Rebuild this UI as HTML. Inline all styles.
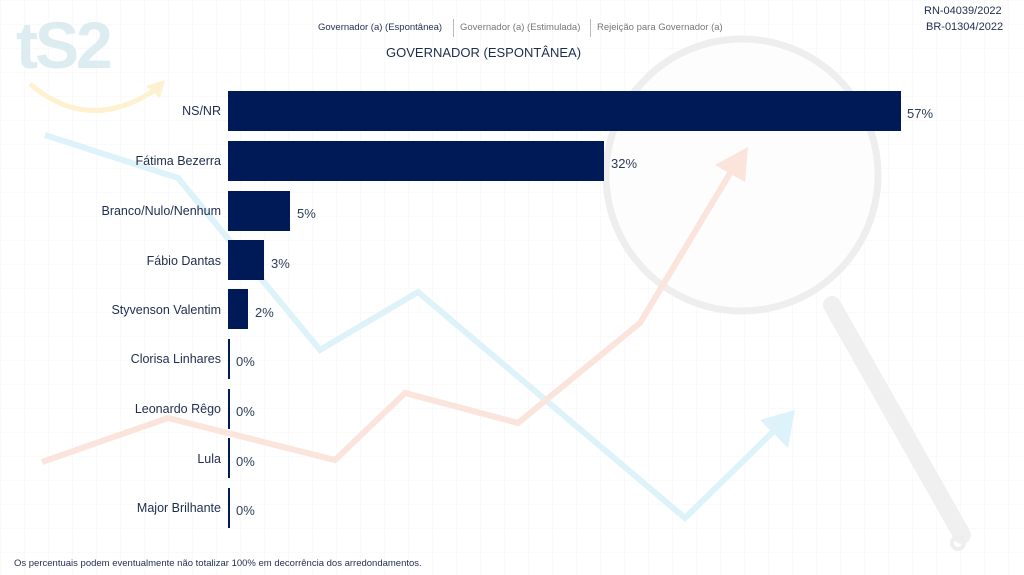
<!DOCTYPE html>
<html><head><meta charset="utf-8"><style>
body{margin:0;width:1024px;height:575px;overflow:hidden;background:#fff;font-family:"Liberation Sans",sans-serif;}
.wrap{position:relative;width:1024px;height:575px;}
.t{position:absolute;white-space:nowrap;}
.lbl{position:absolute;right:803px;font-size:12.5px;color:#1f2d4d;text-align:right;}
.bar{position:absolute;left:228px;height:40px;background:#001a57;}
.val{position:absolute;font-size:13px;color:#2c3e5a;}
</style></head><body><div class="wrap">
<svg width="1024" height="575" style="position:absolute;left:0;top:0">
<defs><pattern id="g" width="24" height="24" patternUnits="userSpaceOnUse"><path d="M24 0H0V24" fill="none" stroke="#f5f6f7" stroke-width="1"/></pattern></defs>
<rect width="1024" height="575" fill="url(#g)"/>
<circle cx="742" cy="175" r="136" fill="#fdfdfd" stroke="#eeeeee" stroke-width="7"/>
<line x1="832" y1="305" x2="962" y2="535" stroke="#f0f0f0" stroke-width="18" stroke-linecap="round"/>
<circle cx="958" cy="543" r="6" fill="none" stroke="#eeeeee" stroke-width="4"/>
<polyline points="45,135 178,178 320,350 418,292 685,518 780,425" fill="none" stroke="#ddf3f9" stroke-width="6"/>
<polygon points="795,410 760,420 788,448" fill="#ddf3f9"/>
<polyline points="42,462 168,418 335,460 405,393 518,423 640,323 735,165" fill="none" stroke="#fbe4dc" stroke-width="6"/>
<polygon points="748,147 715,165 745,182" fill="#fbe4dc"/>
<text x="16" y="68" font-family="Liberation Sans" font-weight="bold" font-size="66" letter-spacing="-3" fill="#dcecf0">tS2</text>
<path d="M30 84 Q90 135 158 88" fill="none" stroke="#fdf1cf" stroke-width="5"/>
<polygon points="165,80 146,86 160,98" fill="#fdf1cf"/>
</svg>
<div class="t" style="left:318px;top:22px;font-size:9.5px;color:#1f2d4d">Governador (a) (Espontânea)</div>
<div style="position:absolute;left:453px;top:19px;width:1px;height:18px;background:#bbb"></div>
<div class="t" style="left:460px;top:22px;font-size:9.5px;color:#777">Governador (a) (Estimulada)</div>
<div style="position:absolute;left:590px;top:19px;width:1px;height:18px;background:#bbb"></div>
<div class="t" style="left:597px;top:22px;font-size:9.5px;color:#777">Rejeição para Governador (a)</div>
<div class="t" style="left:924px;top:5px;font-size:11px;color:#1f2d4d">RN-04039/2022</div>
<div class="t" style="left:926px;top:21px;font-size:11px;color:#1f2d4d">BR-01304/2022</div>
<div class="t" style="left:386px;top:45px;font-size:13px;color:#1f2d4d">GOVERNADOR (ESPONTÂNEA)</div>

<div class="lbl" style="top:104px">NS/NR</div>
<div class="bar" style="top:91px;width:673px"></div><div class="val" style="left:907px;top:106px">57%</div>
<div class="lbl" style="top:154px">Fátima Bezerra</div>
<div class="bar" style="top:141px;width:376px"></div><div class="val" style="left:611px;top:156px">32%</div>
<div class="lbl" style="top:204px">Branco/Nulo/Nenhum</div>
<div class="bar" style="top:191px;width:62px"></div><div class="val" style="left:297px;top:206px">5%</div>
<div class="lbl" style="top:254px">Fábio Dantas</div>
<div class="bar" style="top:240px;width:36px"></div><div class="val" style="left:271px;top:256px">3%</div>
<div class="lbl" style="top:303px">Styvenson Valentim</div>
<div class="bar" style="top:289px;width:20px"></div><div class="val" style="left:255px;top:305px">2%</div>
<div class="lbl" style="top:352px">Clorisa Linhares</div>
<div class="bar" style="top:339px;width:2px"></div><div class="val" style="left:236px;top:354px">0%</div>
<div class="lbl" style="top:402px">Leonardo Rêgo</div>
<div class="bar" style="top:389px;width:2px"></div><div class="val" style="left:236px;top:404px">0%</div>
<div class="lbl" style="top:452px">Lula</div>
<div class="bar" style="top:438px;width:2px"></div><div class="val" style="left:236px;top:454px">0%</div>
<div class="lbl" style="top:501px">Major Brilhante</div>
<div class="bar" style="top:488px;width:2px"></div><div class="val" style="left:236px;top:503px">0%</div>
<div class="t" style="left:14px;top:558px;font-size:9.5px;color:#1f2d4d">Os percentuais podem eventualmente não totalizar 100% em decorrência dos arredondamentos.</div>
</div></body></html>
